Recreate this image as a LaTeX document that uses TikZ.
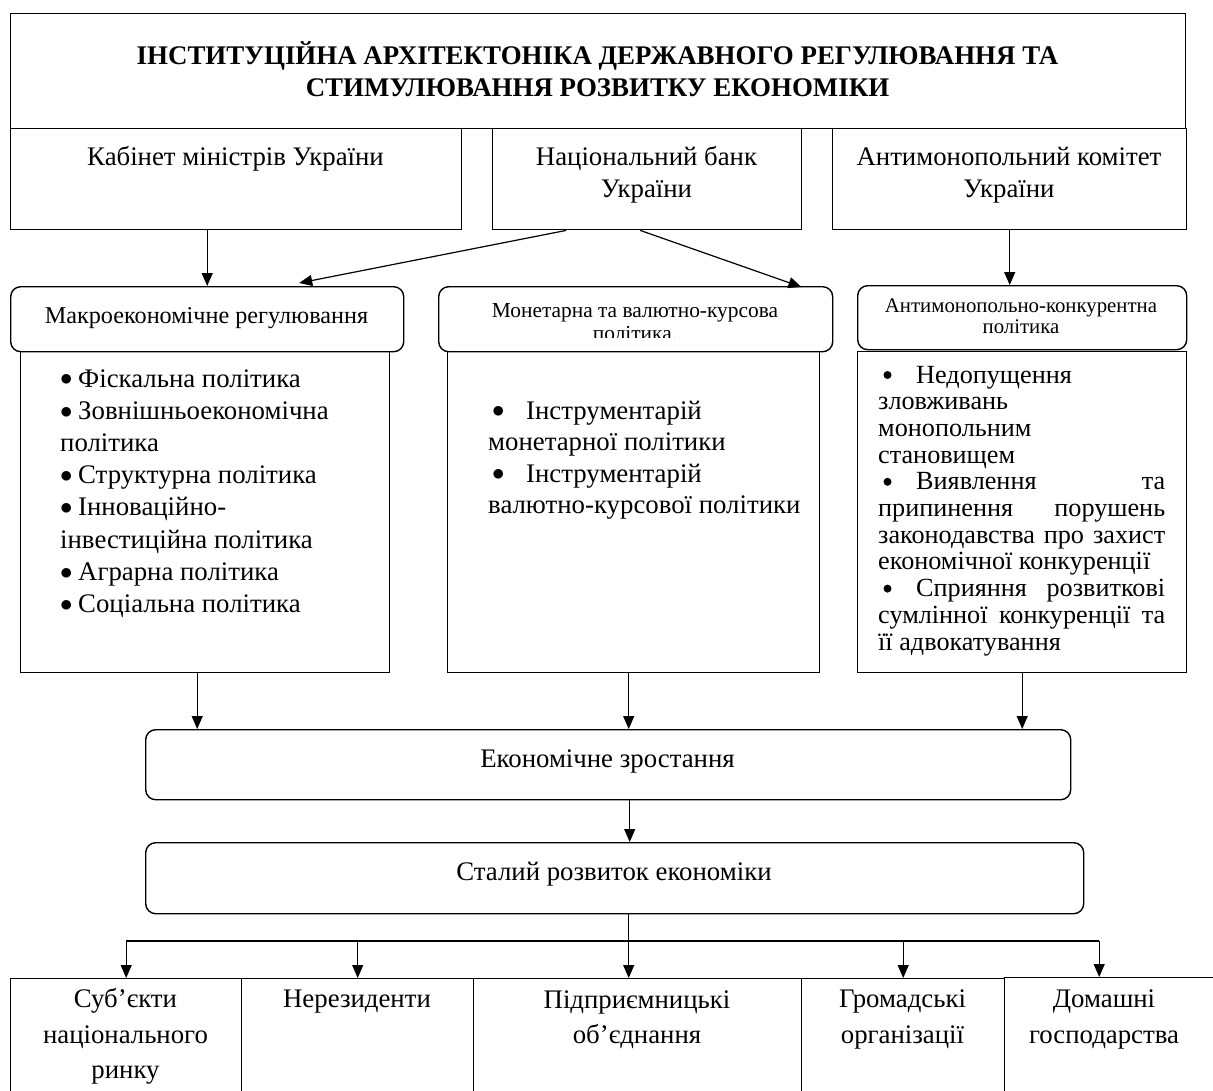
\documentclass[tikz,border=0pt]{standalone}
\usepackage{fontspec}
\setmainfont{Liberation Serif}[BoldFont={Liberation Serif Bold}]
\usetikzlibrary{arrows.meta}
\newcommand\titlef{\bfseries\fontsize{26.9}{32}\selectfont}
\newcommand\bodyf{\fontsize{26.8}{32}\selectfont}
\newcommand\amf{\fontsize{26.2}{27}\selectfont}
\newcommand\hmacf{\fontsize{24.2}{28}\selectfont}
\newcommand\hmonf{\fontsize{21.4}{24}\selectfont}
\newcommand\hamf{\fontsize{20.8}{24}\selectfont}
\newcommand\bul{\raisebox{1.2pt}{\scalebox{1.0}{$\bullet$}}}
\begin{document}
\begin{tikzpicture}[x=1pt,y=-1pt,
  box/.style={draw, line width=1.4pt, inner sep=0pt, anchor=north west},
  rbox/.style={draw, line width=1.4pt, rounded corners=10pt, inner sep=0pt, anchor=north west},
  arr/.style={line width=1.2pt, -{Triangle[length=13pt,width=11pt]}},
  bus/.style={line width=1.2pt},
  t/.style={inner sep=0pt, anchor=base},
  tl/.style={inner sep=0pt, anchor=base west},
  dot/.style={fill=black},
]
\clip (0,0) rectangle (1213,1090);
% title
\node[box, minimum width=1175pt, minimum height=115pt] (title) at (10,13) {};
\node[t, font=\titlef] (tt1) at (597.5,64) {ІНСТИТУЦІЙНА АРХІТЕКТОНІКА ДЕРЖАВНОГО РЕГУЛЮВАННЯ ТА};
\node[t, font=\titlef] (tt2) at (597.5,96) {СТИМУЛЮВАННЯ РОЗВИТКУ ЕКОНОМІКИ};
% row 2
\node[box, minimum width=451pt, minimum height=101pt] (cab) at (10,128) {};
\node[box, minimum width=309pt, minimum height=101pt] (nbu) at (492,128) {};
\node[box, minimum width=354pt, minimum height=101pt] (amcu) at (832,128) {};
\node[t, font=\bodyf] (cabt) at (235.5,165) {Кабінет міністрів України};
\node[t, font=\bodyf] (nbut1) at (646.5,165) {Національний банк};
\node[t, font=\bodyf] (nbut2) at (646.5,197) {України};
\node[t, font=\bodyf] (amcut1) at (1009,165) {Антимонопольний комітет};
\node[t, font=\bodyf] (amcut2) at (1009,197) {України};
% row 3 headers
\node[rbox, minimum width=393pt, minimum height=65pt] (mach) at (10,286) {};
\node[rbox, minimum width=394pt, minimum height=65pt] (monh) at (438,286) {};
\node[rbox, minimum width=329pt, minimum height=64pt] (amh) at (857,285) {};
\node[t, font=\hmacf] (macht) at (206.5,323) {Макроекономічне регулювання};
\begin{scope}
\clip (440,288) rectangle (830,337);
\node[t, font=\hmonf] (monht1) at (635,317) {Монетарна та валютно-курсова};
\node[t, font=\hmonf] (monht2) at (635,340) {політика.};
\end{scope}
\node[t, font=\hamf] (amht1) at (1021,312) {Антимонопольно-конкурентна};
\node[t, font=\hamf] (amht2) at (1021,333) {політика};
% bodies
\node[box, minimum width=369pt, minimum height=321pt] (macb) at (20,351) {};
\node[box, minimum width=372pt, minimum height=321pt] (monb) at (447,351) {};
\node[box, minimum width=329pt, minimum height=321pt] (amb) at (857,351) {};
% macro list
\foreach \txt [count=\i] in {
  {\makebox[18pt][l]{\bul}Фіскальна політика},
  {\makebox[18pt][l]{\bul}Зовнішньоекономічна},
  {політика},
  {\makebox[18pt][l]{\bul}Структурна політика},
  {\makebox[18pt][l]{\bul}Інноваційно-},
  {інвестиційна політика},
  {\makebox[18pt][l]{\bul}Аграрна політика},
  {\makebox[18pt][l]{\bul}Соціальна політика}}
  \node[tl, font=\bodyf] (macl\i) at (60,{387+32.2*(\i-1)}) {\txt};
% monetary list
\node[tl, font=\bodyf] (monl1) at (492,419) {\makebox[34pt][l]{\bul}Інструментарій};
\node[tl, font=\bodyf] (monl2) at (488,450) {монетарної політики};
\node[tl, font=\bodyf] (monl3) at (492,482) {\makebox[34pt][l]{\bul}Інструментарій};
\node[tl, font=\bodyf] (monl4) at (488,513) {валютно-курсової політики};
% antimonopoly list
\foreach \txt [count=\i] in {
  {\hspace*{38pt}Недопущення},
  {зловживань},
  {монопольним},
  {становищем},
  {\makebox[287pt][l]{\hspace*{38pt}Виявлення\hfill та}},
  {\makebox[287pt][s]{припинення порушень}},
  {\makebox[287pt][s]{законодавства про захист}},
  {економічної конкуренції},
  {\makebox[287pt][l]{\hspace*{38pt}Сприяння\hfill розвиткові}},
  {\makebox[287pt][s]{сумлінної конкуренції та}},
  {її адвокатування}}
  \node[tl, font=\amf] (aml\i) at (878,{383+26.7*(\i-1)}) {\txt};
\foreach \j in {1,5,9}
  \fill[dot] (887.5,{383+26.7*(\j-1)-8}) circle (4pt);
% growth & sustained
\node[rbox, minimum width=925pt, minimum height=70pt] (grow) at (145,729) {};
\node[t, font=\bodyf] (growt) at (607.5,767) {Економічне зростання};
\node[rbox, minimum width=938pt, minimum height=71pt] (sust) at (145,842) {};
\node[t, font=\bodyf] (sustt) at (614,880) {Сталий розвиток економіки};
% bottom boxes
\node[box, minimum width=231pt, minimum height=130pt] (b1) at (10,978) {};
\node[box, minimum width=232pt, minimum height=130pt] (b2) at (241,978) {};
\node[box, minimum width=328pt, minimum height=130pt] (b3) at (473,978) {};
\node[box, minimum width=203pt, minimum height=130pt] (b4) at (801,978) {};
\node[box, minimum width=215pt, minimum height=131pt] (b5) at (1004,977) {};
\node[t, font=\bodyf] (b1t1) at (125.5,1007) {Суб’єкти};
\node[t, font=\bodyf] (b1t2) at (125.5,1043) {національного};
\node[t, font=\bodyf] (b1t3) at (125.5,1078) {ринку};
\node[t, font=\bodyf] (b2t1) at (357,1007) {Нерезиденти};
\node[t, font=\bodyf] (b3t1) at (637,1008) {Підприємницькі};
\node[t, font=\bodyf] (b3t2) at (637,1043) {об’єднання};
\node[t, font=\bodyf] (b4t1) at (902.5,1007) {Громадські};
\node[t, font=\bodyf] (b4t2) at (902.5,1043) {організації};
\node[t, font=\bodyf] (b5t1) at (1104,1007) {Домашні};
\node[t, font=\bodyf] (b5t2) at (1104,1043) {господарства};
% connectors
\draw[arr] (mach.north |- cab.south) -- (mach.north);
\draw[arr] ([xshift=-81pt]nbu.south) -- ([xshift=92pt,yshift=3pt]mach.north);
\draw[arr] ([xshift=-7pt]nbu.south) -- ([xshift=-32pt,yshift=-1pt]monh.north east);
\draw[arr] (amcu.south) -- (amcu.south |- amh.north);
\draw[arr] ([xshift=-8pt]macb.south) -- ([xshift=-8pt]macb.south |- grow.north);
\draw[arr] ([xshift=-5pt]monb.south) -- ([xshift=-5pt]monb.south |- grow.north);
\draw[arr] (amb.south) -- (amb.south |- grow.north);
\draw[arr] ([xshift=21.5pt]grow.south) -- ([xshift=21.5pt]grow.south |- sust.north);
\coordinate (busc) at ([xshift=14pt]sust.south);
\coordinate (busy) at (0,941);
\draw[arr] (busc) -- (busc |- b3.north);
\draw[bus] (b1.north |- busy) -- ([xshift=-13pt]b5.north |- busy);
\draw[arr] (b1.north |- busy) -- (b1.north);
\draw[arr] (b2.north |- busy) -- (b2.north);
\draw[arr] (b4.north |- busy) -- (b4.north);
\draw[arr] ([xshift=-13pt]b5.north |- busy) -- ([xshift=-13pt]b5.north);
\end{tikzpicture}
\end{document}
